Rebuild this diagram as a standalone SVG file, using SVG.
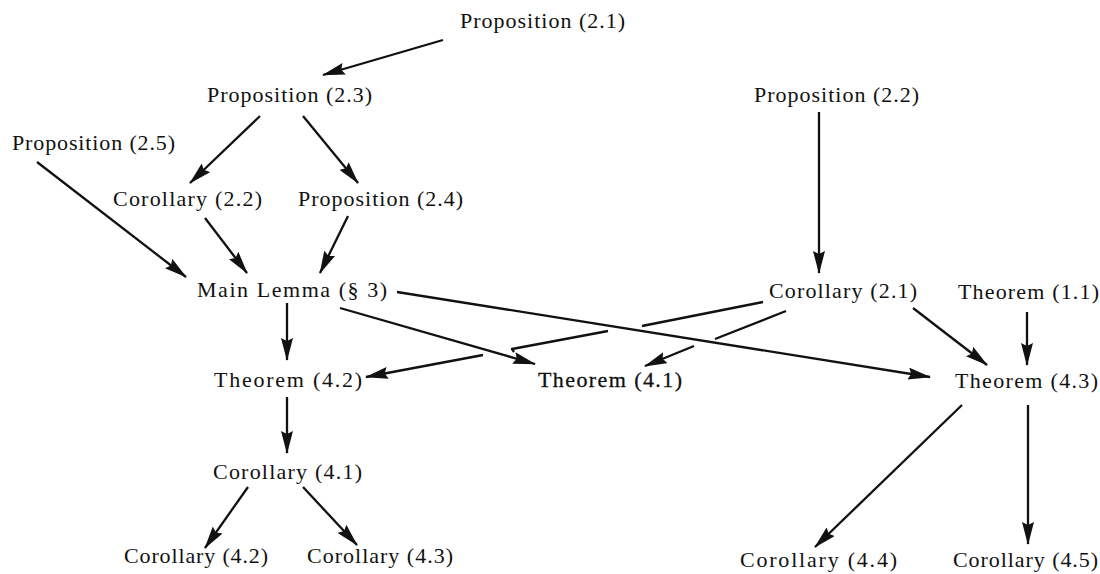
<svg xmlns="http://www.w3.org/2000/svg" width="1100" height="574" viewBox="0 0 1100 574">
<style>
.t{font-family:"Liberation Serif","Times New Roman",serif;font-size:22px;fill:#111;}
.b{stroke:#111;stroke-width:0.3px;}
.c{fill:none;stroke:#111;stroke-width:2.3;stroke-linecap:butt;stroke-linejoin:round;marker-end:url(#ah);}
</style>
<defs>
<marker id="ah" viewBox="0 0 23 12" refX="22" refY="6" markerWidth="23" markerHeight="12" markerUnits="userSpaceOnUse" orient="auto">
<path d="M0,0 L23,6 L0,12 L3,6 z" fill="#111"/>
</marker>
</defs>
<rect width="1100" height="574" fill="#fff"/>
<g id="connectors">
<path class="c" d="M443,40 L323,75"/>
<path class="c" d="M260,116 L190,183"/>
<path class="c" d="M303,116 L358,183"/>
<path class="c" d="M37,162 L186,277"/>
<path class="c" d="M205,218 L247,273"/>
<path class="c" d="M348,216 L320,273"/>
<path class="c" d="M819,112 L819,273"/>
<path class="c" d="M287,303 L287,360"/>
<path class="c" d="M340,308 L535,364"/>
<path class="c" d="M397,292 L930,377"/>
<path class="c" d="M763,302 L642,326 M608,331 L512,349 L514,352 M483,355 L366,377"/>
<path class="c" d="M786,311 L715,339 M694,346 L645,366"/>
<path class="c" d="M913,308 L987,365"/>
<path class="c" d="M1027,312 L1027,365"/>
<path class="c" d="M287,397 L287,453"/>
<path class="c" d="M248,487 L205,548"/>
<path class="c" d="M303,487 L357,545"/>
<path class="c" d="M962,405 L815,547"/>
<path class="c" d="M1028,405 L1028,544"/>
</g>
<g id="prop21"><text class="t" x="460" y="28" textLength="165" lengthAdjust="spacing">Proposition (2.1)</text></g>
<g id="prop23"><text class="t" x="207" y="102" textLength="165" lengthAdjust="spacing">Proposition (2.3)</text></g>
<g id="prop22"><text class="t" x="754" y="102" textLength="165" lengthAdjust="spacing">Proposition (2.2)</text></g>
<g id="prop25"><text class="t" x="12" y="150" textLength="163" lengthAdjust="spacing">Proposition (2.5)</text></g>
<g id="cor22"><text class="t" x="113" y="206" textLength="149" lengthAdjust="spacing">Corollary (2.2)</text></g>
<g id="prop24"><text class="t" x="298" y="206" textLength="165" lengthAdjust="spacing">Proposition (2.4)</text></g>
<g id="mainlemma"><text class="t" x="197" y="297" textLength="190" lengthAdjust="spacing">Main Lemma (§ 3)</text></g>
<g id="cor21"><text class="t" x="769" y="298" textLength="148" lengthAdjust="spacing">Corollary (2.1)</text></g>
<g id="thm11"><text class="t" x="958" y="299" textLength="141" lengthAdjust="spacing">Theorem (1.1)</text></g>
<g id="thm42"><text class="t" x="214" y="387" textLength="148" lengthAdjust="spacing">Theorem (4.2)</text></g>
<g id="thm41"><text class="t b" x="538" y="387" textLength="144" lengthAdjust="spacing">Theorem (4.1)</text></g>
<g id="thm43"><text class="t" x="955" y="388" textLength="143" lengthAdjust="spacing">Theorem (4.3)</text></g>
<g id="cor41"><text class="t" x="213" y="479" textLength="149" lengthAdjust="spacing">Corollary (4.1)</text></g>
<g id="cor42"><text class="t" x="124" y="563" textLength="144" lengthAdjust="spacing">Corollary (4.2)</text></g>
<g id="cor43"><text class="t" x="307" y="563" textLength="146" lengthAdjust="spacing">Corollary (4.3)</text></g>
<g id="cor44"><text class="t" x="740" y="567" textLength="157" lengthAdjust="spacing">Corollary (4.4)</text></g>
<g id="cor45"><text class="t" x="953" y="567" textLength="145" lengthAdjust="spacing">Corollary (4.5)</text></g>
</svg>
